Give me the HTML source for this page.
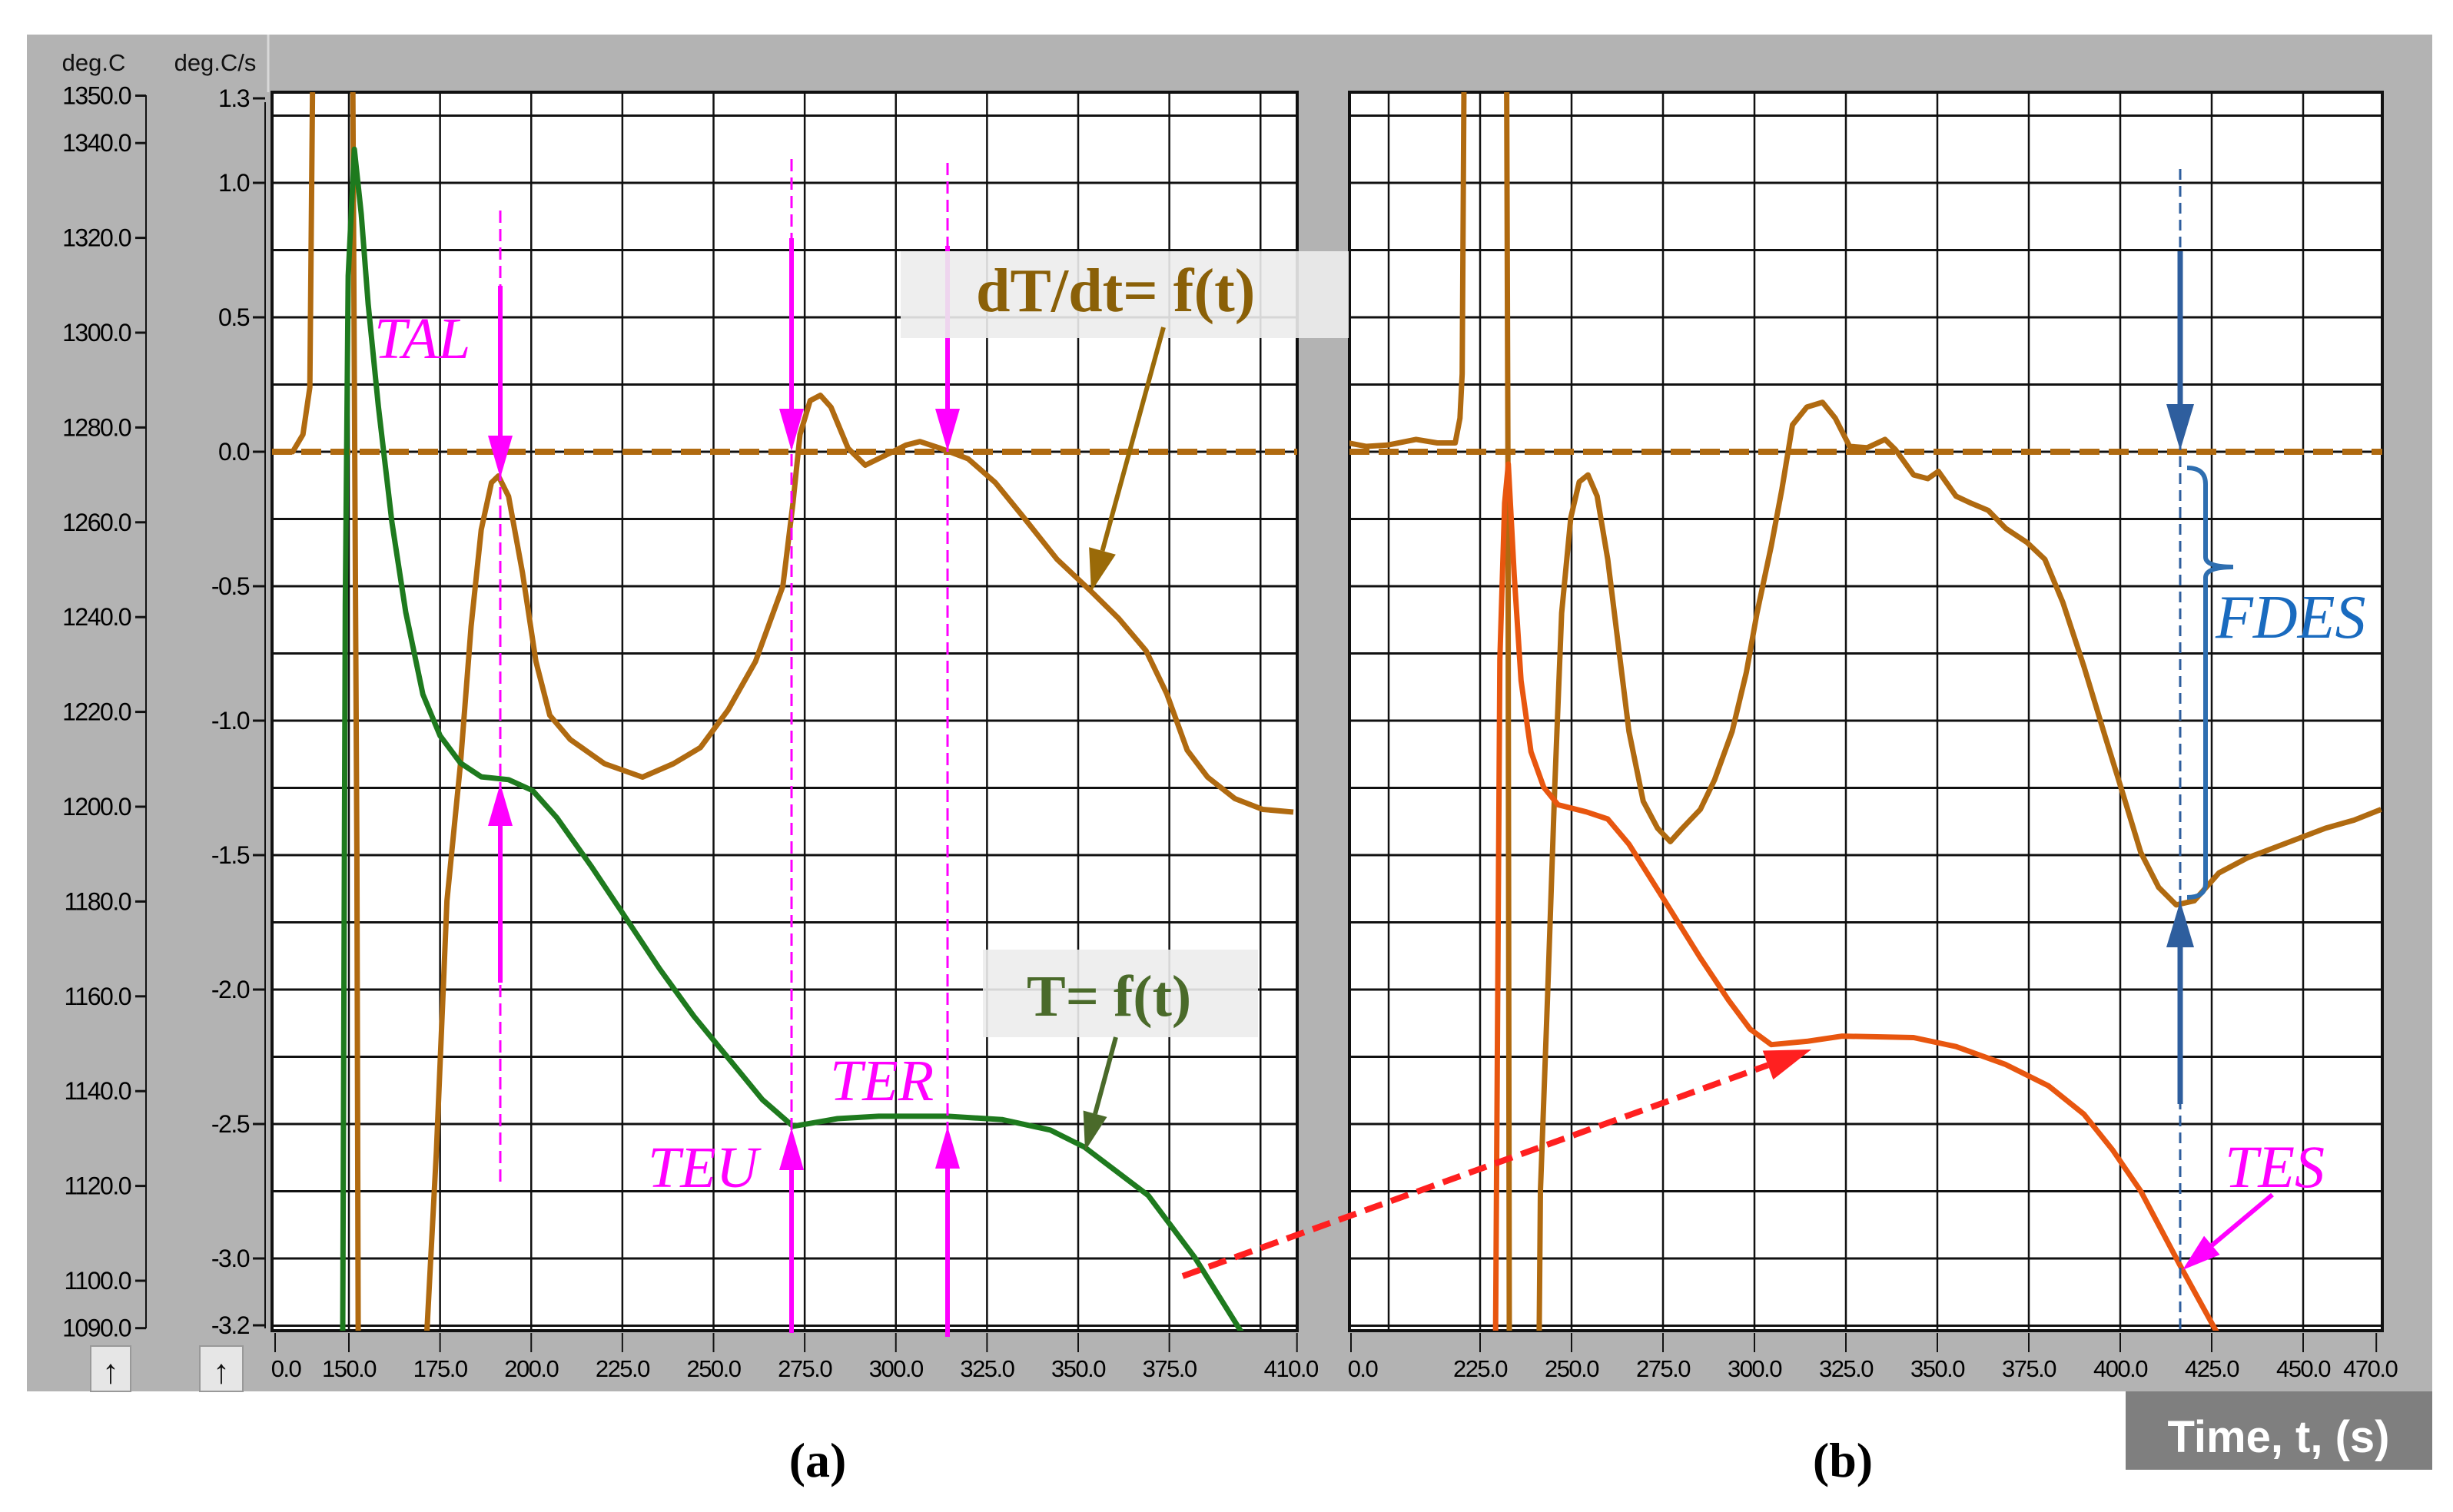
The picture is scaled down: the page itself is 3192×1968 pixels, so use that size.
<!DOCTYPE html>
<html><head><meta charset="utf-8"><style>
html,body{margin:0;padding:0;background:#fff;}
svg{display:block;}
text{font-family:"Liberation Sans",sans-serif;}
</style></head><body>
<svg id="chart" width="3192" height="1968" viewBox="0 0 3192 1968" xmlns="http://www.w3.org/2000/svg">
<defs>
<clipPath id="clipA"><rect x="354" y="120" width="1334" height="1612"/></clipPath>
<clipPath id="clipB"><rect x="1756" y="120" width="1344" height="1612"/></clipPath>
</defs>
<rect x="35" y="45" width="3130" height="1766" fill="#b3b3b3"/>
<line x1="349" y1="45" x2="349" y2="120" stroke="#d8d8d8" stroke-width="3"/>
<rect x="2766" y="1811" width="399" height="102" fill="#7f7f7f"/>
<text x="2965" y="1890" font-size="58" font-weight="bold" fill="#fff" text-anchor="middle">Time, t, (s)</text>
<rect x="354" y="120" width="1334" height="1612" fill="#fff"/>
<rect x="1756" y="120" width="1344" height="1612" fill="#fff"/>
<g id="gridA"></g>
<g id="gridB"></g>
<g id="axes"></g>
<g id="seriesA" clip-path="url(#clipA)"></g>
<g id="seriesB" clip-path="url(#clipB)"></g>
<g id="annot"></g>
<text x="122" y="92" font-size="31" text-anchor="middle" fill="#111">deg.C</text>
<text x="280" y="92" font-size="31" text-anchor="middle" fill="#111">deg.C/s</text>
<g><rect x="118" y="1752" width="52" height="59" fill="#e6e6e6" stroke="#999" stroke-width="2"/><text x="144" y="1800" font-size="44" text-anchor="middle" fill="#111">↑</text></g>
<g><rect x="260" y="1752" width="56" height="59" fill="#e6e6e6" stroke="#999" stroke-width="2"/><text x="288" y="1800" font-size="44" text-anchor="middle" fill="#111">↑</text></g>
<text x="1064" y="1922" font-size="64" font-weight="bold" text-anchor="middle" style="font-family:'Liberation Serif',serif">(a)</text>
<text x="2398" y="1922" font-size="64" font-weight="bold" text-anchor="middle" style="font-family:'Liberation Serif',serif">(b)</text>
</svg>
<script>
const rateTicks=[1.3,1.0,0.5,0.0,-0.5,-1.0,-1.5,-2.0,-2.5,-3.0,-3.2];
const tempTicks=[1350,1340,1320,1300,1280,1260,1240,1220,1200,1180,1160,1140,1120,1100,1090];
const xTicksA=[150,175,200,225,250,275,300,325,350,375,410];
const xTicksB=[225,250,275,300,325,350,375,400,425,450,470];
const gridTA=[150,175,200,225,250,275,300,325,350,375,400];
const gridTB=[200,225,250,275,300,325,350,375,400,425,450];
const rateA_t=[129,134.6,137.4,139.3,139.8,140.2,151.0,151.6,152.2,152.6,170.5,174,176.9,180.6,183.5,186.3,189.1,191,193.8,197.6,201.3,205.1,210.7,220.1,230.5,239,246.4,254,261.5,269,271.8,273.7,276.5,279.3,282.2,286.9,291.6,297.2,302.8,306.6,312.2,319.8,327.3,334.8,344.2,353.6,361.1,368.6,374.3,379.9,385.5,393,400.6,409];
const rateA_v=[0,0,0.064,0.24,1.0,1.6,1.6,0.0,-1.5,-3.5,-3.5,-2.6,-1.67,-1.16,-0.65,-0.29,-0.115,-0.09,-0.166,-0.45,-0.78,-0.98,-1.07,-1.16,-1.21,-1.16,-1.1,-0.96,-0.78,-0.5,-0.19,0.064,0.19,0.21,0.166,0.013,-0.05,-0.013,0.025,0.038,0.013,-0.026,-0.115,-0.24,-0.4,-0.52,-0.62,-0.74,-0.9,-1.11,-1.21,-1.29,-1.33,-1.34];
const tempA_t=[148.0,148.3,149,149.8,151.5,153.4,155.3,158.1,161.8,165.6,170.3,175,180.6,186.3,193.8,200.4,207,216.4,225.8,235.2,244.6,254,263.4,271.8,276.5,284,295.3,314.1,329.1,342.3,351.7,369.2,382,394.9,398];
const tempA_v=[1080,1085,1242.5,1312,1338.7,1325,1306,1284.4,1260,1241,1223.7,1215,1209.2,1206.3,1205.7,1203.4,1197.7,1187.5,1176.7,1165.8,1155.8,1147,1138.2,1132.6,1133.2,1134.2,1134.7,1134.7,1134,1131.8,1128.2,1118,1104.9,1089,1084];
const rateB_t=[189,193.9,199.7,207.5,213.3,218.2,219.5,220.1,220.7,232.2,232.6,233.0,241,241.5,243.4,245.4,247.3,249.8,252.1,254.5,257,259.9,262.8,265.7,269.6,273.5,277,280.3,285.2,289.1,293.9,297.8,300.7,304.6,307.5,310.4,314.3,318.6,322.1,326,330.8,335.7,338.6,343.5,347.4,350.3,355.1,359,363.9,368.7,374.5,379.4,384.3,390.1,395.9,400.8,405.6,410.5,415.3,420.2,427,434.8,444.5,456.1,463.9,471.3];
const rateB_v=[0.033,0.02,0.025,0.046,0.033,0.033,0.125,0.29,1.6,1.6,0,-3.5,-3.5,-2.75,-2.04,-1.25,-0.6,-0.245,-0.112,-0.086,-0.165,-0.4,-0.72,-1.04,-1.3,-1.4,-1.45,-1.4,-1.33,-1.22,-1.04,-0.82,-0.6,-0.35,-0.14,0.1,0.166,0.184,0.125,0.02,0.015,0.046,0.007,-0.086,-0.1,-0.073,-0.165,-0.19,-0.218,-0.285,-0.337,-0.4,-0.56,-0.8,-1.06,-1.275,-1.49,-1.62,-1.685,-1.67,-1.566,-1.51,-1.46,-1.4,-1.37,-1.33];
const tempB_t=[229.0,229.2,230.4,231.7,232.7,234.3,236.2,238.9,242.4,246.3,254.1,259.9,265.7,275.5,285.2,293,298.8,304.6,314.3,324,343.5,355.1,368.7,380.4,390.1,397.9,405.6,417,426.5,429];
const tempB_v=[1080,1085,1231,1264,1272.3,1249.1,1226.6,1211.6,1204.1,1200.4,1198.9,1197.4,1192.1,1180.1,1168.1,1159.1,1153.1,1149.8,1150.5,1151.6,1151.3,1149.4,1145.6,1141.1,1135.1,1127.6,1118.9,1102.3,1089,1084];

const NS="http://www.w3.org/2000/svg";
function xa(t){return 454+(t-150)*4.745;}
function xb(t){return 1926+(t-225)*4.76;}
function yr(r){return 588-350*r;}
function yT(T){return 1667-(T-1100)*6.17;}
function mk(tag,parent){const e=document.createElementNS(NS,tag);document.getElementById(parent).appendChild(e);return e;}
function ln(parent,x1,y1,x2,y2,stroke,w){const e=mk('line',parent);e.setAttribute('x1',x1);e.setAttribute('y1',y1);e.setAttribute('x2',x2);e.setAttribute('y2',y2);e.setAttribute('stroke',stroke);e.setAttribute('stroke-width',w);return e;}
function txt(parent,x,y,s,size,anchor){const e=mk('text',parent);e.setAttribute('x',x);e.setAttribute('y',y);e.setAttribute('font-size',size);e.setAttribute('text-anchor',anchor);e.setAttribute('fill','#000');e.textContent=s;return e;}

for(let k=-13;k<=5;k++){const r=k*0.25;const y=yr(r);if(y<121||y>1731)continue;
 let g=ln('gridA',354,y,1688,y,'#111',3);
 g=ln('gridB',1756,y,3100,y,'#111',3);}
gridTA.forEach(t=>{const g=ln('gridA',xa(t),120,xa(t),1732,'#111',2.5);});
gridTB.forEach(t=>{const g=ln('gridB',xb(t),120,xb(t),1732,'#111',2.5);});
[[354,1688],[1756,3100]].forEach(p=>{const r=mk('rect','gridA');r.setAttribute('x',p[0]);r.setAttribute('y',120);r.setAttribute('width',p[1]-p[0]);r.setAttribute('height',1612);r.setAttribute('fill','none');r.setAttribute('stroke','#111');r.setAttribute('stroke-width',4);
 
 });

let a=ln('axes',190,124,190,1729,'#111',2);
a=ln('axes',345,133,345,1729,'#111',2);
tempTicks.forEach(T=>{const y=yT(T);ln('axes',176,y,190,y,'#111',3);
 const t=txt('axes',170,y+11,T.toFixed(1),32,'end');t.setAttribute('letter-spacing','-1.5');
 
 });
rateTicks.forEach(r=>{let y=yr(r);if(r===-3.2)y=1725;if(r===1.3)y=128;ln('axes',329,y,345,y,'#111',3);
 const t=txt('axes',324,y+11,r.toFixed(1),32,'end');t.setAttribute('letter-spacing','-1.5');
 
 });
ln('axes',358,1735,358,1760,'#111',2);txt('axes',372,1792,'0.0',31,'middle').setAttribute('letter-spacing','-1.5');
ln('axes',1758,1735,1758,1760,'#111',2);txt('axes',1773,1792,'0.0',31,'middle').setAttribute('letter-spacing','-1.5');
xTicksA.forEach(t=>{const x=xa(t);ln('axes',x,1735,x,1760,'#111',2);
 const e=txt('axes',t===410?x-8:x,1792,t.toFixed(1),31,'middle');e.setAttribute('letter-spacing','-1.5');
 
 });
xTicksB.forEach(t=>{const x=xb(t);ln('axes',x,1735,x,1760,'#111',2);
 const e=txt('axes',t===470?x-8:x,1792,t.toFixed(1),31,'middle');e.setAttribute('letter-spacing','-1.5');
 
 });

let z=ln('seriesA',354,yr(0),1688,yr(0),'#b06a10',8);z.setAttribute('stroke-dasharray','26 12');
z=ln('seriesB',1756,yr(0),3100,yr(0),'#b06a10',8);z.setAttribute('stroke-dasharray','26 12');

function series(parent,ts,vs,fx,fy,color,name){const p=mk('polyline',parent);
 p.setAttribute('points',ts.map((t,i)=>fx(t).toFixed(1)+','+fy(vs[i]).toFixed(1)).join(' '));
 p.setAttribute('fill','none');p.setAttribute('stroke',color);p.setAttribute('stroke-width',7);p.setAttribute('stroke-linejoin','round');
 
 }
series('seriesA',rateA_t,rateA_v,xa,yr,'#b06a10','rate-curve-a');
series('seriesA',tempA_t,tempA_v,xa,yT,'#1e7a1e','temperature-curve-a');
series('seriesB',rateB_t,rateB_v,xb,yr,'#b06a10','rate-curve-b');
series('seriesB',tempB_t,tempB_v,xb,yT,'#e8560f','temperature-curve-b');

function arrow(x1,y1,x2,y2,color,w,hl,hw,name){const g=mk('g','annot');
 
 
 const dx=x2-x1,dy=y2-y1,L=Math.hypot(dx,dy),ux=dx/L,uy=dy/L;
 const bx=x2-ux*hl,by=y2-uy*hl;
 const l=document.createElementNS(NS,'line');l.setAttribute('x1',x1);l.setAttribute('y1',y1);l.setAttribute('x2',bx);l.setAttribute('y2',by);l.setAttribute('stroke',color);l.setAttribute('stroke-width',w);g.appendChild(l);
 const p=document.createElementNS(NS,'polygon');p.setAttribute('points',`${x2},${y2} ${bx-uy*hw},${by+ux*hw} ${bx+uy*hw},${by-ux*hw}`);p.setAttribute('fill',color);g.appendChild(p);return g;}
function dash(x,y1,y2,color,w,da,name){const l=ln('annot',x,y1,x,y2,color,w);l.setAttribute('stroke-dasharray',da);
 
 }
const MG='#ff00ff';
dash(651,274,1540,MG,3,'16 8','tal-marker-line');
dash(1030,207,1730,MG,3,'16 8','teu-marker-line');
dash(1233,212,1730,MG,3,'16 8','ter-marker-line');
arrow(651,372,651,622,MG,6,55,16,'tal-down-arrow');
arrow(651,1279,651,1020,MG,6,55,16,'tal-up-arrow');
arrow(1030,310,1030,587,MG,6,55,16,'teu-down-arrow');
arrow(1233,320,1233,587,MG,6,55,16,'ter-down-arrow');
arrow(1030,1735,1030,1468,MG,6,55,16,'teu-up-arrow');
arrow(1233,1740,1233,1466,MG,6,55,16,'ter-up-arrow');
function label(x,y,s,size,color,style,name,weight){const t=mk('text','annot');t.setAttribute('x',x);t.setAttribute('y',y);t.setAttribute('font-size',size);t.setAttribute('fill',color);
 t.setAttribute('style',"font-family:'Liberation Serif',serif;font-style:"+style+";font-weight:"+(weight||'normal'));t.textContent=s;
 
 }
label(487,466,'TAL',76,MG,'italic','tal-label');
label(843,1545,'TEU',76,MG,'italic','teu-label');
label(1080,1432,'TER',76,MG,'italic','ter-label');
let bx=mk('rect','annot');bx.setAttribute('x',1172);bx.setAttribute('y',327);bx.setAttribute('width',583);bx.setAttribute('height',113);bx.setAttribute('fill','#ececec');bx.setAttribute('opacity','0.9');


label(1270,405,'dT/dt= f(t)',80,'#8a6008','normal','rate-legend-label','bold');
arrow(1514,426,1420,770,'#9a6a08',6,55,18,'rate-legend-arrow');
bx=mk('rect','annot');bx.setAttribute('x',1279);bx.setAttribute('y',1236);bx.setAttribute('width',358);bx.setAttribute('height',114);bx.setAttribute('fill','#ececec');bx.setAttribute('opacity','0.9');


label(1336,1322,'T= f(t)',76,'#4a6a2a','normal','temp-legend-label','bold');
arrow(1452,1350,1412,1498,'#4a6a2a',6,50,16,'temp-legend-arrow');
let rd=arrow(1539,1661,2357,1366,'#ff2020',8,60,20,'transfer-arrow');rd.firstChild.setAttribute('stroke-dasharray','24 12');
dash(2837,220,1735,'#2e5e9e',3,'14 8','tes-marker-line');
arrow(2837,327,2837,586,'#2e5e9e',7,60,18,'fdes-down-arrow');
arrow(2837,1437,2837,1173,'#2e5e9e',7,60,18,'fdes-up-arrow');
let br=mk('path','annot');br.setAttribute('d','M2846,609 Q2870,609 2870,630 L2870,725 Q2870,738 2906,738 Q2870,738 2870,752 L2870,1150 Q2870,1168 2846,1168');br.setAttribute('fill','none');br.setAttribute('stroke','#2e6eb0');br.setAttribute('stroke-width',6);


label(2883,830,'FDES',80,'#1a6bbf','italic','fdes-label');
label(2895,1545,'TES',78,MG,'italic','tes-label');
arrow(2957,1555,2840,1653,MG,6,50,16,'tes-arrow');
</script>
</body></html>
